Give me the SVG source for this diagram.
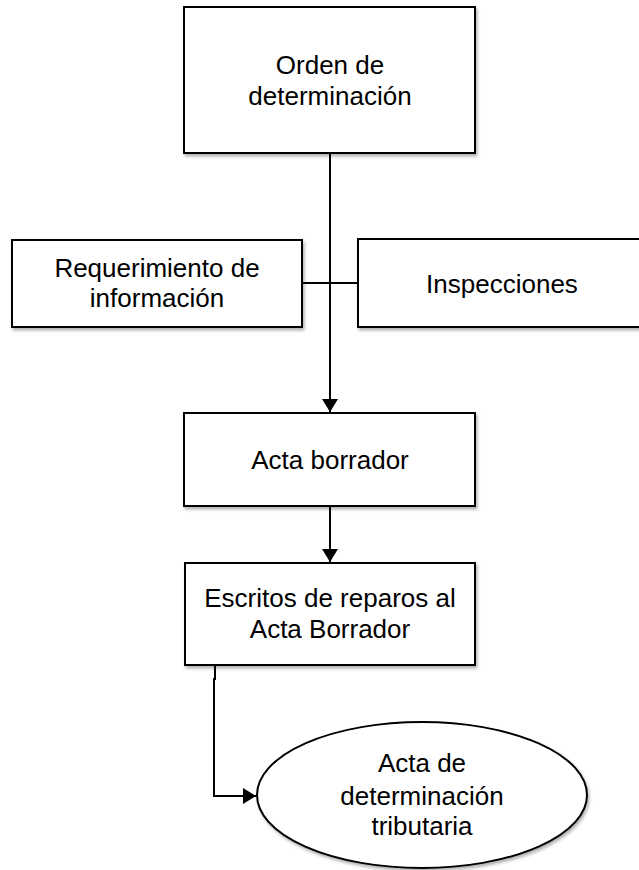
<svg xmlns="http://www.w3.org/2000/svg" width="639" height="870" viewBox="0 0 639 870">
  <defs>
    <marker id="arrow" markerUnits="userSpaceOnUse" markerWidth="14" markerHeight="16" refX="13" refY="8" orient="auto">
      <path d="M0,0 L13,8 L0,16 Z" fill="#000"/>
    </marker>
    <filter id="sh" x="-5%" y="-5%" width="115%" height="120%">
      <feDropShadow dx="1.5" dy="2.5" stdDeviation="1.5" flood-color="#000" flood-opacity="0.3"/>
    </filter>
  </defs>
  <style>
    .box { fill: #fff; stroke: #000; stroke-width: 2; filter: url(#sh); }
    .lbl { font-family: "Liberation Sans", Arial, sans-serif; font-size: 26px; fill: #000; text-anchor: middle; }
    .conn { fill: none; stroke: #000; stroke-width: 2; }
  </style>
  <rect width="639" height="870" fill="#fff"/>

  <g id="connectors">
    <line class="conn" x1="330" y1="153" x2="330" y2="412" marker-end="url(#arrow)"/>
    <line class="conn" x1="302" y1="283" x2="358" y2="283"/>
    <line class="conn" x1="330" y1="506" x2="330" y2="562" marker-end="url(#arrow)"/>
    <path class="conn" d="M215,665 L215,679 L214,679 L214,796 L256,796" marker-end="url(#arrow)"/>
  </g>

  <g id="orden">
    <rect class="box" x="184" y="7" width="291" height="146"/>
    <text class="lbl" x="330" y="74">Orden de</text>
    <text class="lbl" x="330" y="105">determinación</text>
  </g>

  <g id="requerimiento">
    <rect class="box" x="12" y="240" width="290" height="87"/>
    <text class="lbl" x="157" y="277">Requerimiento de</text>
    <text class="lbl" x="157" y="307">información</text>
  </g>

  <g id="inspecciones">
    <rect class="box" x="358" y="239" width="300" height="88"/>
    <text class="lbl" x="502" y="293">Inspecciones</text>
  </g>

  <g id="acta-borrador">
    <rect class="box" x="184" y="413" width="291" height="93"/>
    <text class="lbl" x="330" y="469">Acta borrador</text>
  </g>

  <g id="escritos">
    <rect class="box" x="185" y="563" width="290" height="102"/>
    <text class="lbl" x="330" y="607">Escritos de reparos al</text>
    <text class="lbl" x="330" y="638">Acta Borrador</text>
  </g>

  <g id="acta-determinacion">
    <ellipse class="box" cx="422" cy="795" rx="165" ry="73"/>
    <text class="lbl" x="422" y="772">Acta de</text>
    <text class="lbl" x="422" y="805">determinación</text>
    <text class="lbl" x="422" y="835">tributaria</text>
  </g>
</svg>
